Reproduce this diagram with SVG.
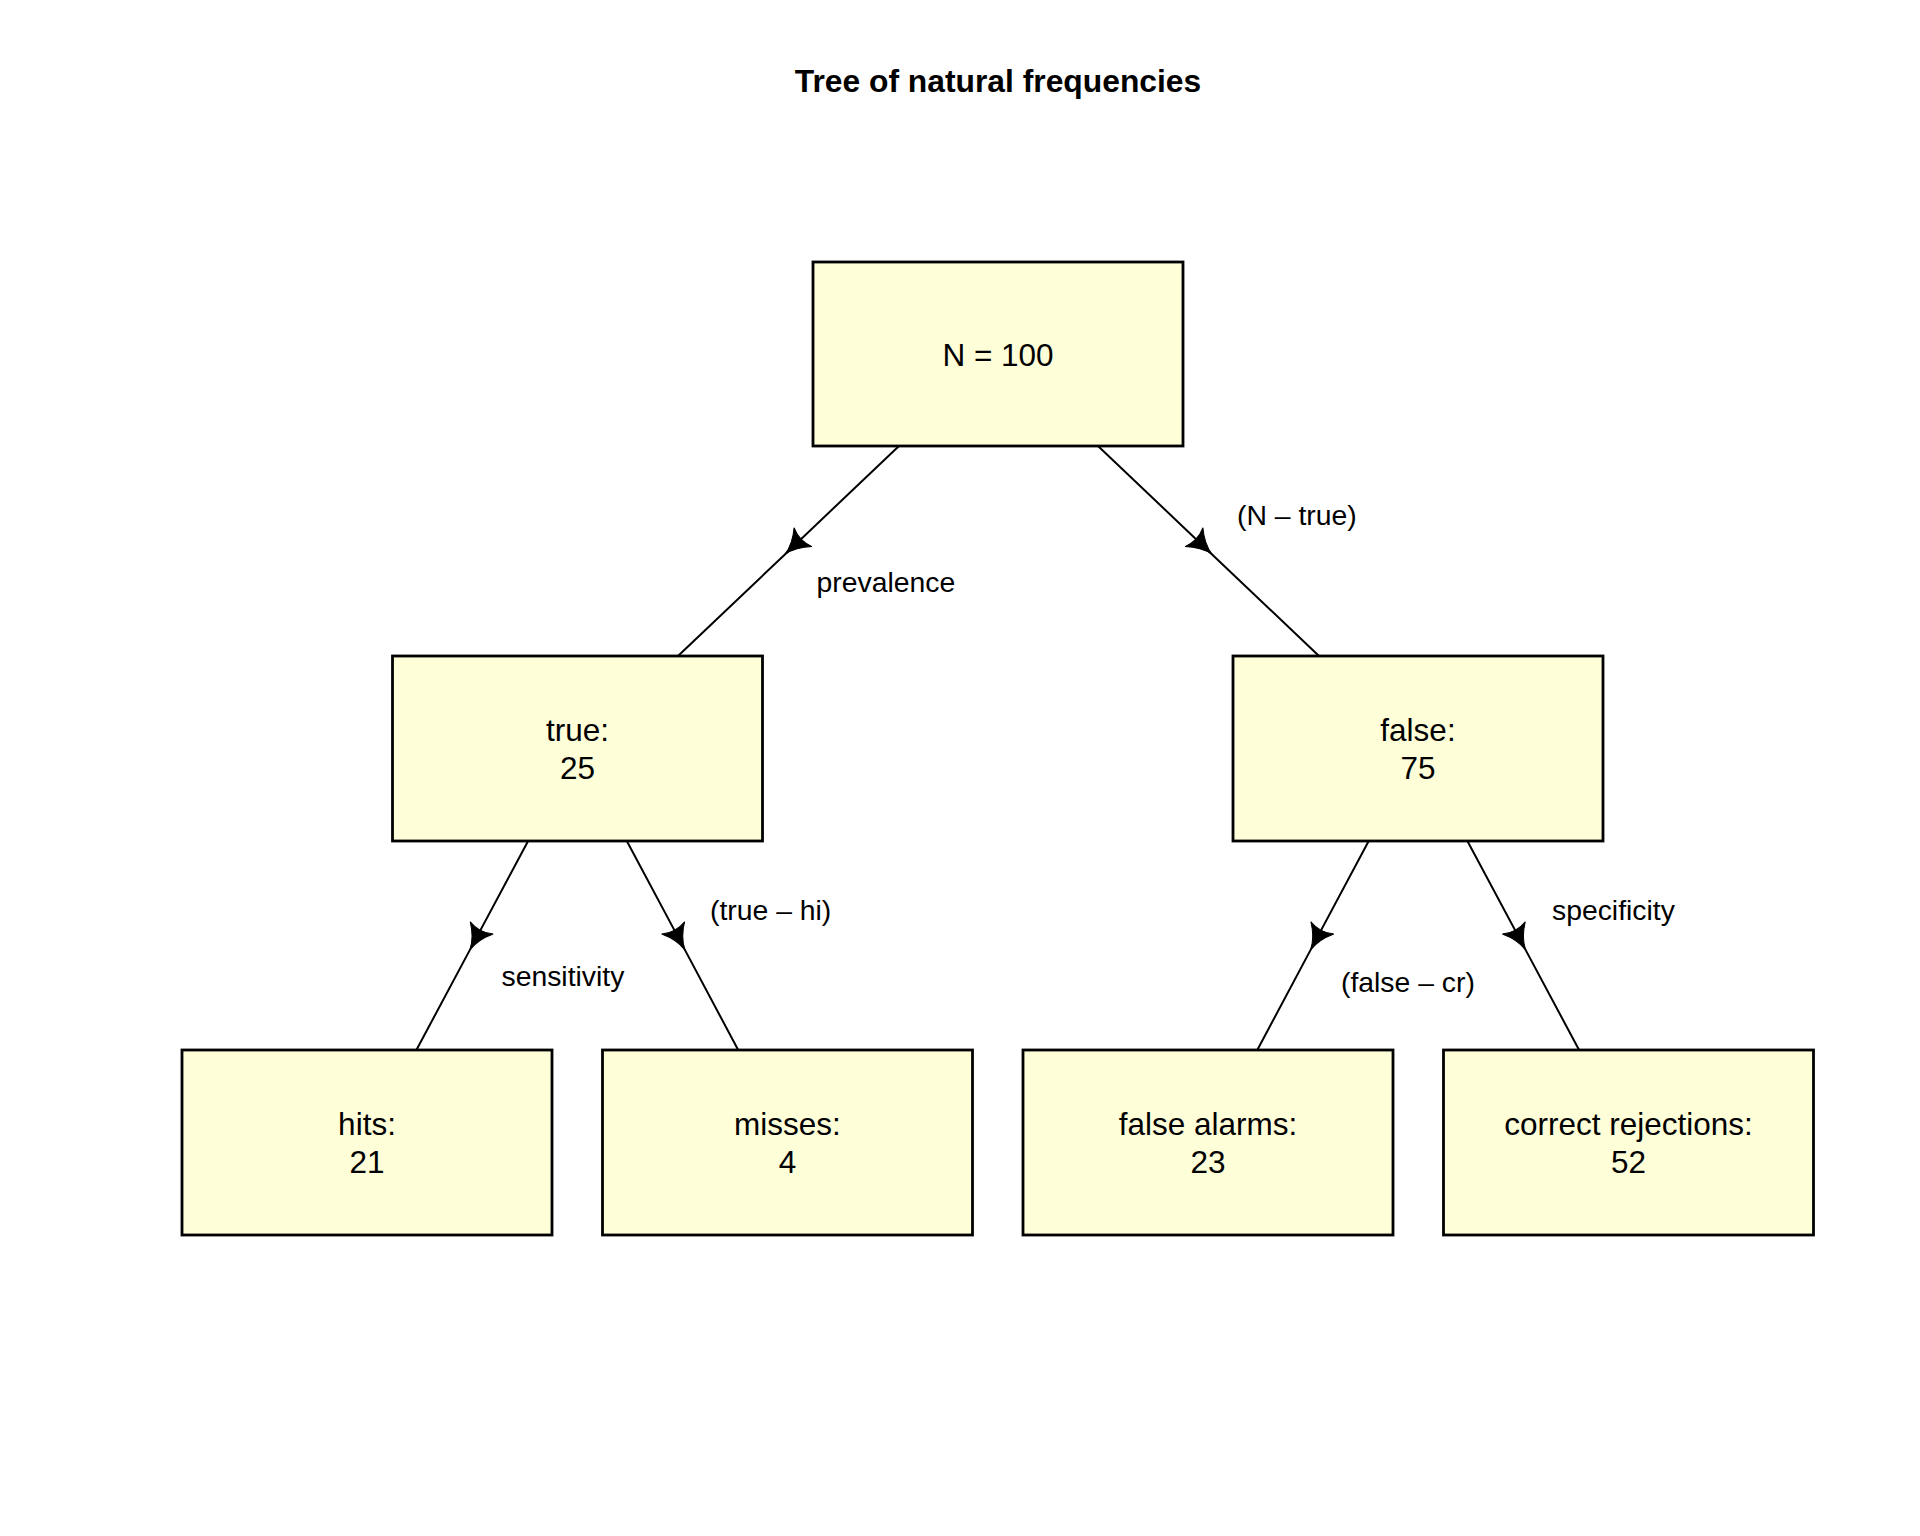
<svg xmlns="http://www.w3.org/2000/svg" width="1920" height="1536" viewBox="0 0 1920 1536">
  <style>
    .box { fill: #FEFED9; stroke: #000; stroke-width: 2.8; }
    .ntxt { font-family: "Liberation Sans", Arial, Helvetica, sans-serif; font-size: 31.5px; fill: #000; text-anchor: middle; }
    .elbl { font-family: "Liberation Sans", Arial, Helvetica, sans-serif; font-size: 28.35px; fill: #000; }
    .title { font-family: "Liberation Sans", Arial, Helvetica, sans-serif; font-size: 31.8px; font-weight: bold; fill: #000; text-anchor: middle; }
    .edge { fill: none; stroke: #000; stroke-width: 2; marker-mid: url(#arr); }
  </style>
  <defs>
    <marker id="arr" markerUnits="userSpaceOnUse" viewBox="-28 -15 32 30" markerWidth="32" markerHeight="30" refX="0" refY="0" orient="auto" overflow="visible">
      <path d="M0,0 Q-13,-2.2 -25,-13 Q-19.5,0 -25,13 Q-13,2.2 0,0 Z" fill="#000" stroke="#000" stroke-width="1" stroke-linejoin="miter"/>
    </marker>
  </defs>
  <rect width="1920" height="1536" fill="#fff"/>
  <text class="title" x="998" y="92">Tree of natural frequencies</text>

  <g id="connectors">
    <path class="edge" d="M899,446 L784.9,554.4 L678,656"/>
    <path class="edge" d="M1098,446 L1212.1,554.4 L1319,656"/>
    <path class="edge" d="M528.1,841 L469.9,949.9 L416.4,1050"/>
    <path class="edge" d="M626.8,841 L684.9,949.9 L738.2,1050"/>
    <path class="edge" d="M1368.7,841 L1310.6,949.9 L1257.3,1050"/>
    <path class="edge" d="M1467.4,841 L1525.6,949.9 L1579.1,1050"/>
    <text class="elbl" x="816.5" y="592">prevalence</text>
    <text class="elbl" x="1237" y="525">(N – true)</text>
    <text class="elbl" x="710" y="920">(true – hi)</text>
    <text class="elbl" x="501.5" y="986">sensitivity</text>
    <text class="elbl" x="1341" y="992">(false – cr)</text>
    <text class="elbl" x="1552" y="920">specificity</text>
  </g>

  <g id="node-root">
    <rect class="box" x="813" y="262" width="370" height="184"/>
    <text class="ntxt" x="998" y="366">N = 100</text>
  </g>
  <g id="node-true">
    <rect class="box" x="392.5" y="656" width="370" height="185"/>
    <text class="ntxt" x="577.5" y="741">true:</text>
    <text class="ntxt" x="577.5" y="779">25</text>
  </g>
  <g id="node-false">
    <rect class="box" x="1233" y="656" width="370" height="185"/>
    <text class="ntxt" x="1418" y="741">false:</text>
    <text class="ntxt" x="1418" y="779">75</text>
  </g>
  <g id="node-hits">
    <rect class="box" x="182" y="1050" width="370" height="185"/>
    <text class="ntxt" x="367" y="1135">hits:</text>
    <text class="ntxt" x="367" y="1173">21</text>
  </g>
  <g id="node-misses">
    <rect class="box" x="602.5" y="1050" width="370" height="185"/>
    <text class="ntxt" x="787.5" y="1135">misses:</text>
    <text class="ntxt" x="787.5" y="1173">4</text>
  </g>
  <g id="node-false-alarms">
    <rect class="box" x="1023" y="1050" width="370" height="185"/>
    <text class="ntxt" x="1208" y="1135">false alarms:</text>
    <text class="ntxt" x="1208" y="1173">23</text>
  </g>
  <g id="node-correct-rejections">
    <rect class="box" x="1443.5" y="1050" width="370" height="185"/>
    <text class="ntxt" x="1628.5" y="1135">correct rejections:</text>
    <text class="ntxt" x="1628.5" y="1173">52</text>
  </g>
</svg>
